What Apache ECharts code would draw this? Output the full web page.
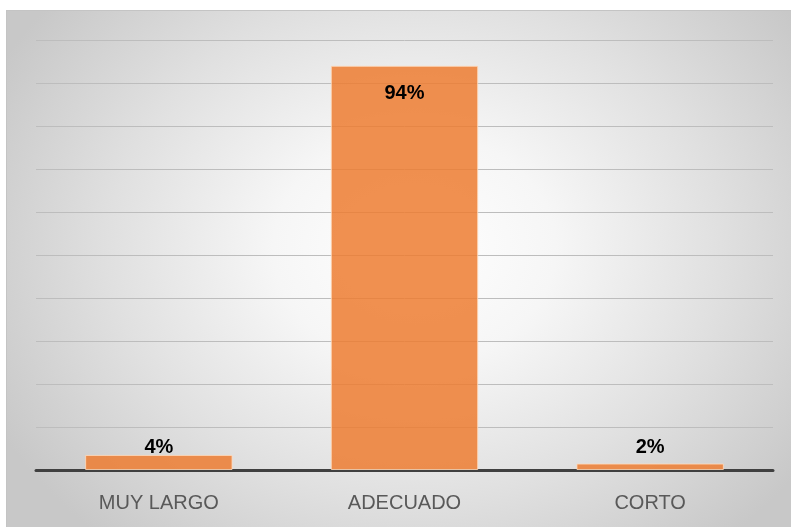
<!DOCTYPE html>
<html>
<head>
<meta charset="utf-8">
<script src="https://cdn.jsdelivr.net/npm/echarts@6/dist/echarts.min.js"></script>
<style>
html,body{margin:0;padding:0;background:#fff;width:791px;height:527px;overflow:hidden;}
#box{position:absolute;left:6px;top:10px;width:785px;height:517px;
background:radial-gradient(ellipse 60% 75% at 52% 46%, #ffffff 0%, #f6f6f6 30%, #e0e0e0 65%, #c8c8c8 100%);
border-top:1px solid #c4c4c4;border-left:1px solid #c4c4c4;box-sizing:border-box;}
#chart{width:100%;height:100%;}
</style>
</head>
<body>
<div id="box"><div id="chart"></div></div>
<script>
const categories = ['MUY LARGO', 'ADECUADO', 'CORTO'];
const values = [3.5, 94, 1.5];
const valueLabels = ['4%', '94%', '2%'];
const yMax = 100;
const yInterval = 10;

const labelPos = ['top', 'insideTop', 'top'];
const labelDist = [-3, 18, 6];

const chart = echarts.init(document.getElementById('chart'), null, {renderer: 'canvas'});
chart.setOption({
  animation: false,
  backgroundColor: 'transparent',
  grid: {left: 29, right: 18, top: 29, bottom: 57, containLabel: false},
  xAxis: {
    type: 'category',
    data: categories,
    axisLine: {show: true, lineStyle: {color: '#404040', width: 3}},
    axisTick: {show: false},
    axisLabel: {color: '#595959', fontSize: 20, fontFamily: 'Liberation Sans', margin: 23}
  },
  yAxis: {
    type: 'value',
    min: 0,
    max: yMax,
    interval: yInterval,
    axisLabel: {show: false},
    axisLine: {show: false},
    axisTick: {show: false},
    splitLine: {lineStyle: {color: '#bdbdbd', width: 1}}
  },
  series: [{
    type: 'bar',
    barCategoryGap: '40%',
    data: values.map((v, i) => ({
      value: v,
      label: {
        show: true,
        position: labelPos[i],
        distance: labelDist[i],
        formatter: valueLabels[i],
        color: '#000',
        fontWeight: 'bold',
        fontSize: 20,
        fontFamily: 'Liberation Sans'
      }
    })),
    itemStyle: {color: 'rgba(237,125,49,0.85)', borderColor: 'rgba(255,220,190,0.8)', borderWidth: 1},
    z: 1
  }]
});
</script>
</body>
</html>
